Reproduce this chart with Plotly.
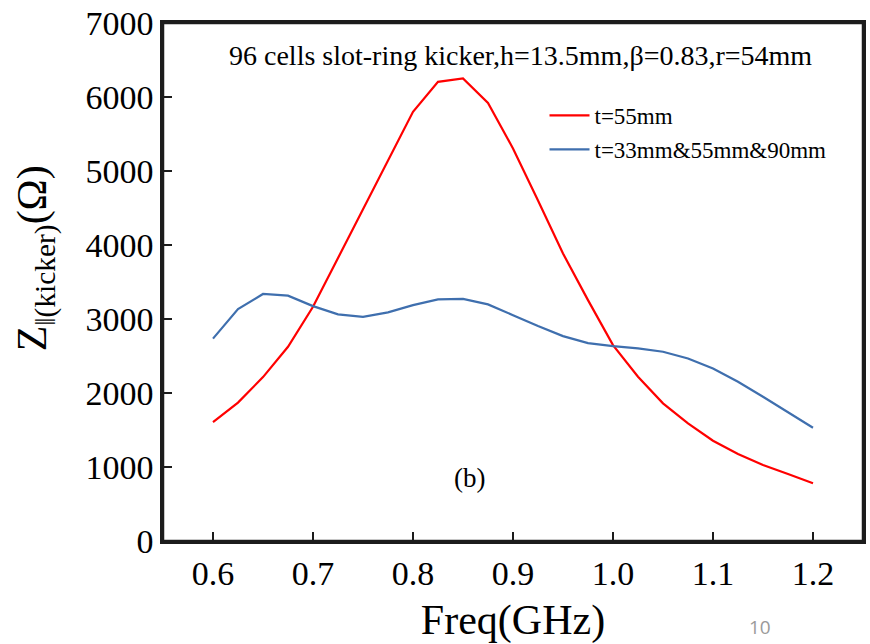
import plotly.graph_objects as go

# Frequency sweep (GHz)
freq = [0.600, 0.625, 0.650, 0.675, 0.700, 0.725, 0.750, 0.775, 0.800,
        0.825, 0.850, 0.875, 0.900, 0.925, 0.950, 0.975, 1.000, 1.025,
        1.050, 1.075, 1.100, 1.125, 1.150, 1.175, 1.200]

# Longitudinal kicker impedance (Ohm)
z_t55 = [1605, 1870, 2215, 2625, 3165, 3820, 4480, 5140, 5800,
         6205, 6250, 5920, 5305, 4600, 3885, 3255, 2647, 2220,
         1860, 1590, 1355, 1175, 1026, 905, 780]
z_all = [2735, 3133, 3338, 3316, 3174, 3062, 3030, 3089, 3187,
         3264, 3272, 3197, 3052, 2904, 2769, 2674, 2634, 2602,
         2557, 2467, 2332, 2152, 1949, 1738, 1531]

# Axis ticks
x_tickvals = [0.6, 0.7, 0.8, 0.9, 1.0, 1.1, 1.2]
x_ticktext = ["0.6", "0.7", "0.8", "0.9", "1.0", "1.1", "1.2"]
y_tickvals = [0, 1000, 2000, 3000, 4000, 5000, 6000, 7000]
y_ticktext = ["0", "1000", "2000", "3000", "4000", "5000", "6000", "7000"]

series_names = ["t=55mm", "t=33mm&55mm&90mm"]
series_colors = ["#FF0000", "#3F6FAE"]

SERIF = "Liberation Serif"
INK = "#1c1c1c"
X_RANGE = [0.55, 1.25]
Y_RANGE = [0, 7000]

fig = go.Figure()
for name, ys, color, grp in zip(series_names, [z_t55, z_all], series_colors, ["a", "b"]):
    fig.add_trace(go.Scatter(
        x=freq, y=ys, mode="lines", name=name, legendgroup=grp,
        line=dict(color=color, width=2.2),
    ))

axis_common = dict(
    showline=True, linecolor=INK, linewidth=2.5, mirror=True,
    ticks="inside", ticklen=9, tickwidth=2, tickcolor=INK,
    showgrid=False, zeroline=False,
    tickfont=dict(family=SERIF, size=34, color="black"),
)
# Short in-between ticks live on label-less overlay axes
minor_common = dict(
    ticks="inside", ticklen=5, tickwidth=2, tickcolor=INK,
    showticklabels=False, showline=False, showgrid=False, zeroline=False,
)

fig.update_layout(
    xaxis=dict(
        range=X_RANGE, tickmode="array", tickvals=x_tickvals, ticktext=x_ticktext,
        title=dict(text="Freq(GHz)", font=dict(family=SERIF, size=42, color="black"), standoff=18),
        **axis_common,
    ),
    yaxis=dict(
        range=Y_RANGE, tickmode="array", tickvals=y_tickvals, ticktext=y_ticktext,
        **axis_common,
    ),
    xaxis2=dict(overlaying="x", anchor="y", side="bottom", range=X_RANGE,
                tickmode="linear", tick0=0.6, dtick=0.05, **minor_common),
    yaxis2=dict(overlaying="y", anchor="x", side="left", range=Y_RANGE,
                tickmode="linear", tick0=0, dtick=500, **minor_common),
)

# Plot frame
fig.add_shape(type="rect", xref="paper", yref="paper", x0=0, y0=0, x1=1, y1=1,
              line=dict(color=INK, width=2.5), layer="above")

fig.add_annotation(
    text="Z<sub>‖(kicker)</sub>(Ω)", textangle=-90,
    xref="paper", yref="paper", x=-0.182, y=0.545, xanchor="center", yanchor="middle",
    showarrow=False, font=dict(family=SERIF, size=42, color="black"),
)
fig.add_annotation(
    text="96 cells slot-ring kicker,h=13.5mm,β=0.83,r=54mm",
    xref="paper", yref="paper", x=0.51, y=0.938, xanchor="center", yanchor="middle",
    showarrow=False, font=dict(family=SERIF, size=28, color="black"),
)
fig.add_annotation(
    text="(b)", xref="paper", yref="paper", x=0.438, y=0.122,
    xanchor="center", yanchor="middle",
    showarrow=False, font=dict(family=SERIF, size=27, color="black"),
)
fig.add_annotation(
    text="10", xref="paper", yref="paper", x=0.853, y=-0.166,
    xanchor="center", yanchor="middle",
    showarrow=False, font=dict(family="Open Sans", size=19, color="#9a9a9a"),
)

fig.update_layout(
    width=870, height=644,
    margin=dict(l=163, r=4, t=23, b=103),
    paper_bgcolor="white", plot_bgcolor="white",
    showlegend=True,
    legend=dict(
        x=0.545, y=0.863, xanchor="left", yanchor="top",
        bgcolor="rgba(0,0,0,0)", borderwidth=0,
        font=dict(family=SERIF, size=23, color="black"),
        tracegroupgap=1, itemwidth=40,
    ),
)

fig.write_html("out.html")
